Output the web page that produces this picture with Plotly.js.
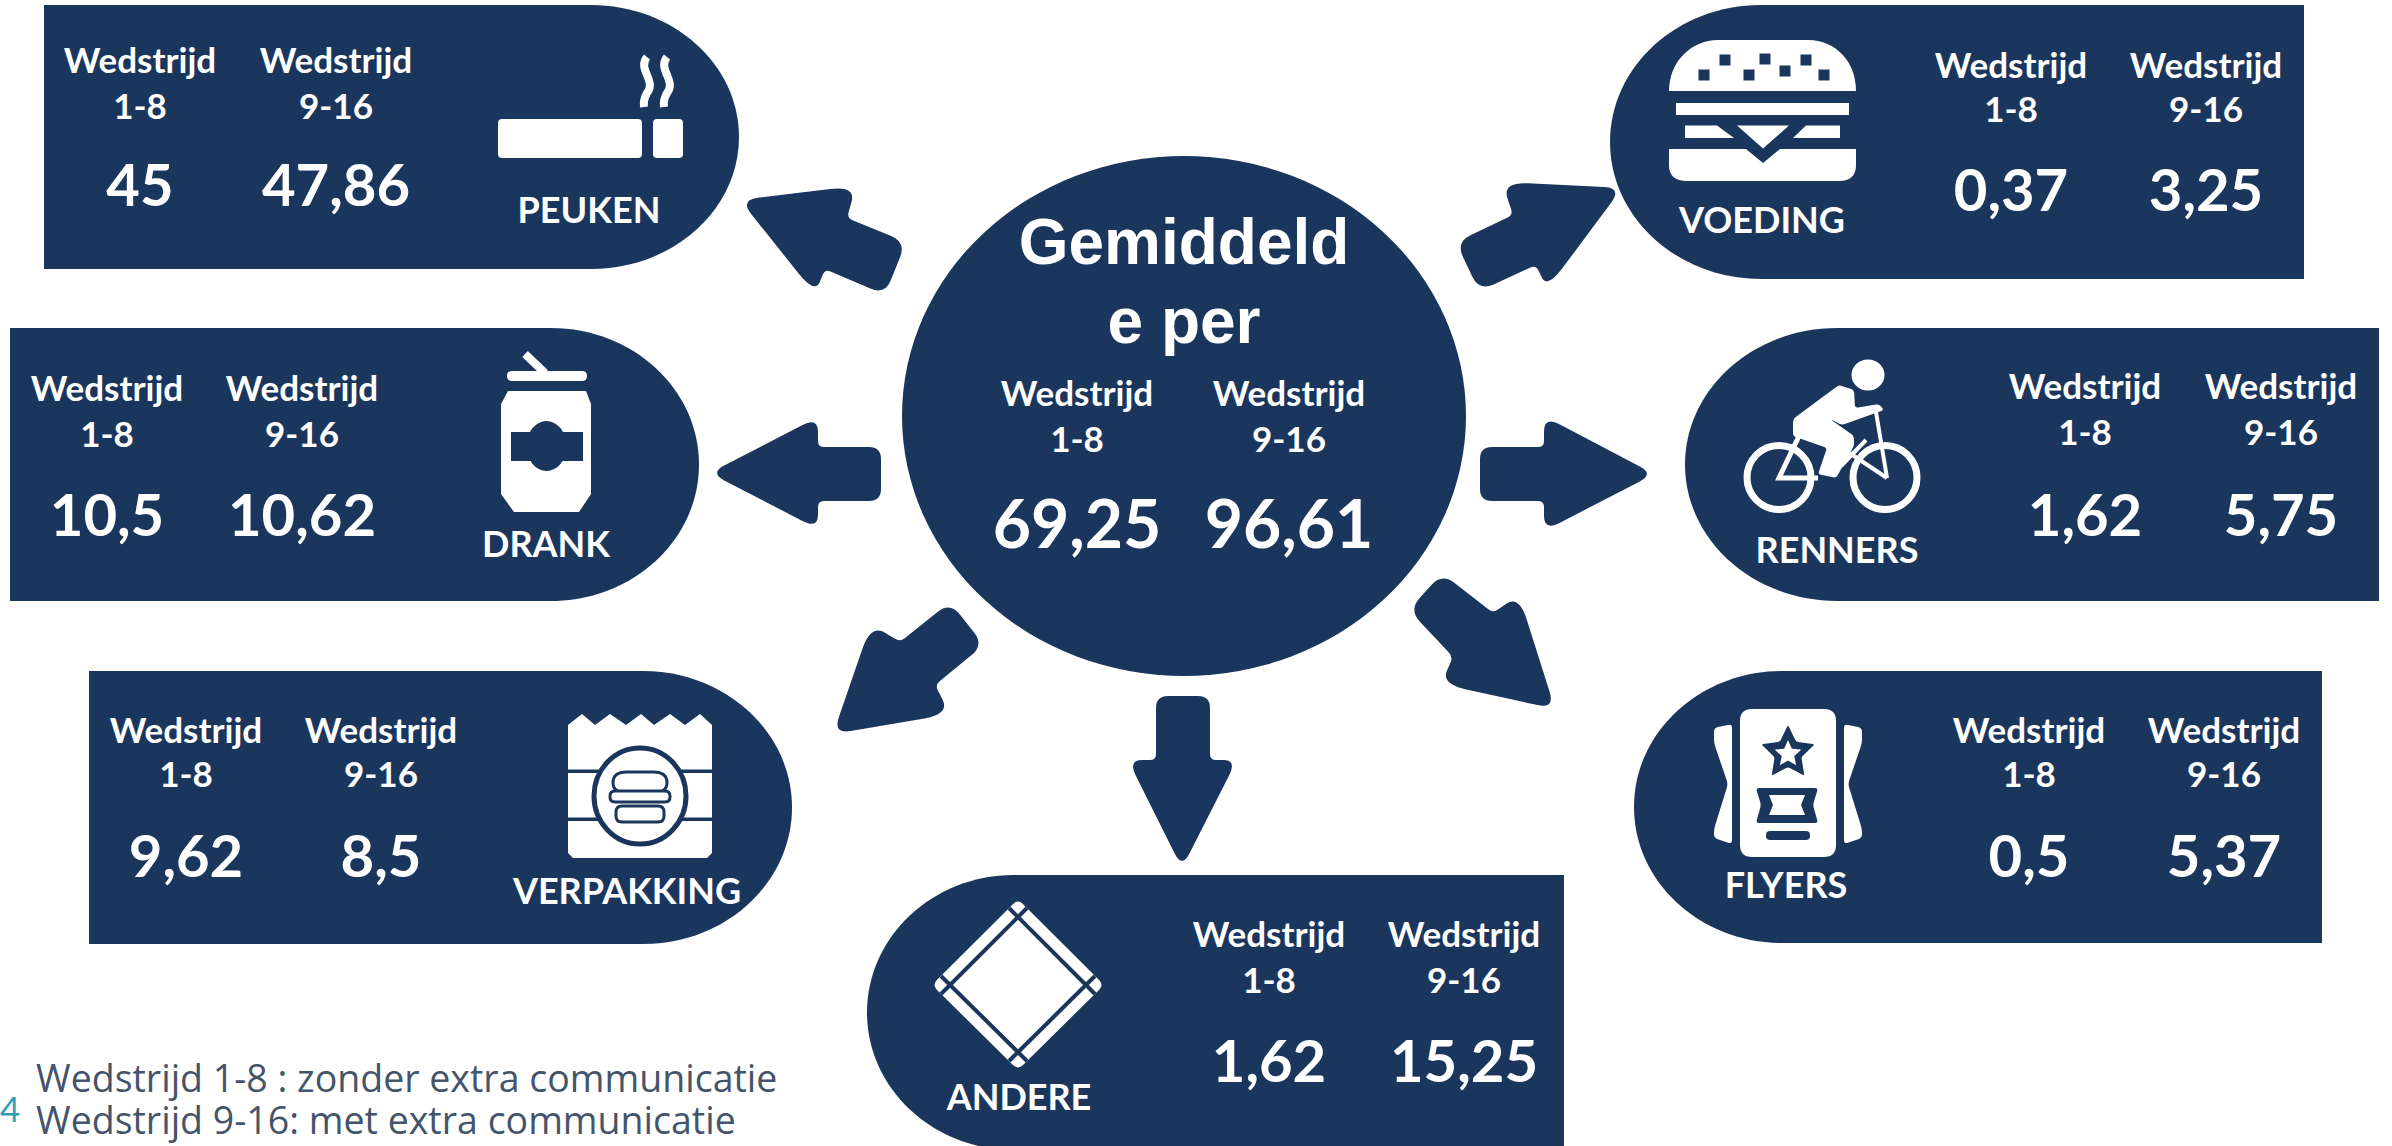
<!DOCTYPE html>
<html><head><meta charset="utf-8">
<script src="https://cdn.plot.ly/plotly-3.0.1.min.js"></script>
<style>html,body{margin:0;padding:0;background:#fff;overflow:hidden}#c{width:2392px;height:1146px}</style>
</head><body><div id="c"></div>
<script>
// ---- data ----
const categories = ["PEUKEN","DRANK","VERPAKKING","ANDERE","VOEDING","RENNERS","FLYERS"];
const wedstrijd1_8 = [45,10.5,9.62,1.62,0.37,1.62,0.5];
const wedstrijd9_16 = [47.86,10.62,8.5,15.25,3.25,5.75,5.37];
const totalLabels = ["Gemiddeld","e per"];
const total1_8 = 69.25;
const total9_16 = 96.61;
const groupWord = "Wedstrijd";
const groupRanges = ["1-8","9-16"];
const footnotes = ["Wedstrijd 1-8 : zonder extra communicatie","Wedstrijd 9-16: met extra communicatie"];
const slideDigit = "4";

// ---- layout (separate from data) ----
const NAVY="#1b365d", WHITE="#ffffff";
const panelBoxes=[
 {x0:44,x1:739,xs:591,y0:5,y1:269,c1:140,c2:336,r1:64,r2:110,r3:191,lx:589,ly:214},
 {x0:10,x1:699,xs:551,y0:328,y1:601,c1:107,c2:302,r1:392,r2:438,r3:521,lx:546,ly:548},
 {x0:89,x1:792,xs:643,y0:671,y1:944,c1:186,c2:381,r1:734,r2:778,r3:862,lx:627,ly:895},
 {x0:1564,x1:867,xs:1014,y0:875,y1:1150,c1:1269,c2:1464,r1:938,r2:984,r3:1067,lx:1019,ly:1101},
 {x0:2304,x1:1610,xs:1761,y0:5,y1:279,c1:2011,c2:2206,r1:69,r2:113,r3:196,lx:1762,ly:224},
 {x0:2379,x1:1685,xs:1837,y0:328,y1:601,c1:2085,c2:2281,r1:390,r2:436,r3:521,lx:1837,ly:554},
 {x0:2322,x1:1634,xs:1782,y0:671,y1:943,c1:2029,c2:2224,r1:734,r2:778,r3:862,lx:1786,ly:889}
];
const centerCols={c1:1077,c2:1289,r1:397,r2:443,r3:531};

function panelPath(b){
 const k=0.5523, ym=(b.y0+b.y1)/2, ry=(b.y1-b.y0)/2, rx=b.x1-b.xs;
 return `M${b.x0} ${b.y0} L${b.xs} ${b.y0} C${b.xs+k*rx} ${b.y0} ${b.x1} ${ym-k*ry} ${b.x1} ${ym} C${b.x1} ${ym+k*ry} ${b.xs+k*rx} ${b.y1} ${b.xs} ${b.y1} L${b.x0} ${b.y1} Z`;
}
function rounded(pts,rad){
 let d="";const n=pts.length;
 for(let i=0;i<n;i++){
  const p=pts[i],a=pts[(i+n-1)%n],b=pts[(i+1)%n],r=Array.isArray(rad)?rad[i]:rad;
  const la=Math.hypot(a[0]-p[0],a[1]-p[1]),lb=Math.hypot(b[0]-p[0],b[1]-p[1]);
  const ra=Math.min(r,la/2),rb=Math.min(r,lb/2);
  const s=[p[0]+(a[0]-p[0])*ra/la,p[1]+(a[1]-p[1])*ra/la];
  const e=[p[0]+(b[0]-p[0])*rb/lb,p[1]+(b[1]-p[1])*rb/lb];
  d+=(i?"L":"M")+s[0].toFixed(1)+" "+s[1].toFixed(1)+" Q"+p[0]+" "+p[1]+" "+e[0].toFixed(1)+" "+e[1].toFixed(1)+" ";
 }
 return d+"Z";
}
const arrows=[
 {p:[[740,200],[856,186],[847,218],[906,242],[885,295],[825,269],[815,294]],r:[18,26,6,16,16,6,26]},
 {p:[[1622,188],[1547,289],[1536,265],[1479,291],[1456,242],[1513,215],[1502,182]],r:[18,26,6,16,16,6,26]},
 {p:[[833,734],[950,714],[935,685],[984,645],[950,602],[900,642],[871,624]],r:[18,26,6,16,16,6,26]},
 {p:[[1442,573],[1493,613],[1519,595],[1555,709],[1441,684],[1453,657],[1409,610]],r:[16,6,26,18,26,6,16]},
 {p:[[710,473],[818,417],[818,447],[881,447],[881,501],[818,501],[818,529]],r:[16,18,6,12,12,6,18]},
 {p:[[1654,474],[1544,531],[1544,501],[1480,501],[1480,447],[1544,447],[1544,416]],r:[16,18,6,12,12,6,18]},
 {p:[[1182,868],[1128,760],[1156,760],[1156,696],[1210,696],[1210,760],[1237,760]],r:[16,18,6,12,12,6,18]}
];

const shapes=[];
const fillS=(path,color)=>shapes.push({type:"path",path,fillcolor:color,line:{width:0},xref:"x",yref:"y",layer:"below"});
const strokeS=(path,color,w)=>shapes.push({type:"path",path,fillcolor:"rgba(0,0,0,0)",line:{color,width:w},xref:"x",yref:"y",layer:"below"});
const ell=(cx,cy,rx,ry,fill,lc,lw)=>shapes.push({type:"circle",x0:cx-rx,x1:cx+rx,y0:cy-ry,y1:cy+ry,fillcolor:fill,line:{color:lc||fill,width:lw||0},xref:"x",yref:"y",layer:"below"});
const rect=(x0,y0,x1,y1,c,r)=>fillS(rounded([[x0,y0],[x1,y0],[x1,y1],[x0,y1]],r||0.01),c);
const poly=(pts,c)=>fillS("M"+pts.map(p=>p.join(" ")).join(" L")+" Z",c);
const mv=(pts,dx)=>pts.map(p=>[p[0]+dx,p[1]]);

panelBoxes.forEach(b=>fillS(panelPath(b),NAVY));
ell(1184,416,282,260,NAVY);
arrows.forEach(a=>fillS(rounded(a.p,a.r),NAVY));

// cigarette
rect(498,119,642,158,WHITE,4); rect(653,119,683,158,WHITE,4);
strokeS("M647 57 C637 69 657 81 647 93 Q643 100 644 107",WHITE,8);
strokeS("M667 57 C657 69 677 81 667 93 Q663 100 664 107",WHITE,8);
// can
strokeS("M525 354 L545 373",WHITE,8);
rect(507,371,587,381,WHITE,5);
poly([[508,391],[586,391],[591,404],[591,494],[579,512],[514,512],[501,494],[501,404]],WHITE);
rect(511,432,583,461,NAVY); ell(546.5,446,20,25,NAVY);
// burger
const B=-4;
fillS(`M${1673+B} 91 C${1673+B} 62 ${1695+B} 40 ${1722+B} 40 L${1812+B} 40 C${1840+B} 40 ${1860+B} 62 ${1860+B} 91 Z`,WHITE);
[[1729,60],[1769,59],[1810,60],[1708,75],[1753,75],[1789,71],[1828,75]].forEach(s=>rect(s[0]+B-5.5,s[1]-5.5,s[0]+B+5.5,s[1]+5.5,NAVY));
rect(1680+B,103,1853+B,115,WHITE);
poly(mv([[1689,125.5],[1721,125.5],[1738,138],[1689,138]],B),WHITE);
poly(mv([[1844,125.5],[1810,125.5],[1797,138],[1844,138]],B),WHITE);
poly(mv([[1741,125.5],[1793,125.5],[1767,148.5]],B),WHITE);
fillS(`M${1673+B} 149 L${1750+B} 149 L${1767+B} 163 L${1784+B} 149 L${1860+B} 149 L${1860+B} 165 Q${1860+B} 181 ${1843+B} 181 L${1691+B} 181 Q${1673+B} 181 ${1673+B} 165 Z`,WHITE);
// cyclist
ell(1868,375,16.5,15.5,WHITE);
ell(1779,477.5,32,32,"rgba(0,0,0,0)",WHITE,7);
ell(1885,477.5,32,32,"rgba(0,0,0,0)",WHITE,7);
fillS(rounded(mv([[1797,419],[1843,385],[1858,390],[1859,408],[1883,404],[1888,410],[1846,425],[1834,419],[1858,436],[1858,446],[1840,478],[1822,474],[1831,448],[1797,436]],-4),3),WHITE);
strokeS("M1876 412 L1887 478",WHITE,4);
strokeS("M1799 436 L1779 478 L1818 478",WHITE,5);
strokeS("M1848 452 L1887 478 M1841 466 L1866 440",WHITE,4);
// bag
poly([[568,725],[582,714],[595,725],[610,714],[626,725],[641,714],[654,725],[670,714],[685,725],[700,714],[712,725],[712,853],[707,858],[573,858],[568,853]],WHITE);
rect(568,769.5,712,773,NAVY); rect(568,817.5,712,821,NAVY);
ell(640,796,46,48,WHITE,NAVY,5);
const bunA=[[613,793],[613,772],[667,772],[667,793]],bunB=[[610,802],[610,791],[670,791],[670,802]],bunC=[[616,806],[664,806],[664,822],[616,822]];
fillS(rounded(bunA,14),WHITE); strokeS(rounded(bunA,14),NAVY,3);
fillS(rounded(bunB,5),WHITE); strokeS(rounded(bunB,5),NAVY,3);
fillS(rounded(bunC,6),WHITE); strokeS(rounded(bunC,6),NAVY,3);
// diamond
const dT=[1018,899],dR=[1104,985],dB=[1018,1070],dL=[932,985];
fillS(rounded([dT,dR,dB,dL],7),WHITE);
const shift=(p,dx,dy)=>[p[0]+dx,p[1]+dy];
[[dT,dL,9,9],[dT,dR,-9,9],[dB,dL,9,-9],[dB,dR,-9,-9]].forEach(l=>{
 const a=shift(l[0],l[2],l[3]),b=shift(l[1],l[2],l[3]);
 strokeS(`M${a[0]} ${a[1]} L${b[0]} ${b[1]}`,NAVY,4);
});
// flyers
const F=-6;
rect(1746+F,709,1842+F,857,WHITE,12);
fillS(rounded(mv([[1738,724],[1720,728],[1720,743],[1734,784],[1720,829],[1720,838],[1738,844]],F),4),WHITE);
fillS(rounded(mv([[1850,724],[1868,728],[1868,743],[1854,784],[1868,829],[1868,838],[1850,844]],F),4),WHITE);
function star(cx,cy,R,r){const a=[];for(let i=0;i<10;i++){const t=-Math.PI/2+i*Math.PI/5,q=i%2?r:R;a.push([cx+q*Math.cos(t),cy+q*Math.sin(t)]);}return a;}
fillS(rounded(star(1794+F,753,28,14),2),NAVY);
fillS(rounded(star(1794+F,754,14,6.5),0.5),WHITE);
fillS(rounded(mv([[1762,788],[1824,788],[1819,805],[1824,823],[1762,823],[1767,805]],F),3),NAVY);
poly(mv([[1775,795],[1811,795],[1807,805],[1811,815],[1775,815],[1779,805]],F),WHITE);
rect(1772+F,831,1816+F,840,NAVY,4);

// ---- text traces ----
const fmt=v=>String(v).replace(".",",");
const bc=panelBoxes;
const hx=[],hy=[],ht=[],vx=[],vy=[],vt=[];
function addHead(b){
 hx.push(b.c1,b.c2,b.c1,b.c2);hy.push(b.r1,b.r1,b.r2,b.r2);ht.push(groupWord,groupWord,groupRanges[0],groupRanges[1]);
}
bc.forEach((b,i)=>{addHead(b);vx.push(b.c1,b.c2);vy.push(b.r3,b.r3);vt.push(fmt(wedstrijd1_8[i]),fmt(wedstrijd9_16[i]));});
addHead(centerCols);
const tr=(x,y,text,size,color,family,weight,pos)=>({type:"scatter",mode:"text",x,y,text,textposition:pos||"middle center",hoverinfo:"skip",cliponaxis:false,showlegend:false,
 textfont:{size,color,family,weight}});
const BODY="Lato, 'Noto Sans', sans-serif";
const traces=[
 tr(hx,hy,ht,35,WHITE,BODY,700),
 tr(vx,vy,vt,58,WHITE,BODY,700),
 tr([centerCols.c1,centerCols.c2],[centerCols.r3,centerCols.r3],[fmt(total1_8),fmt(total9_16)],66,WHITE,BODY,700),
 tr(bc.map(b=>b.lx),bc.map(b=>b.ly),categories,36,WHITE,BODY,700),
 tr([1184,1184],[248,327],totalLabels,64,WHITE,"'Liberation Sans', Arial, sans-serif",700),
 tr([36,36],[1083,1125],footnotes,37.5,"#44546a","'Open Sans', 'Noto Sans', sans-serif",400,"middle right"),
 tr([0],[1113],[slideDigit],35,"#2e9db5",BODY,400,"middle right")
];
Plotly.newPlot("c",traces,{
 width:2392,height:1146,margin:{l:0,r:0,t:0,b:0,pad:0},paper_bgcolor:WHITE,plot_bgcolor:WHITE,showlegend:false,
 xaxis:{range:[0,2392],visible:false,fixedrange:true},
 yaxis:{range:[1146,0],visible:false,fixedrange:true},
 shapes
},{displayModeBar:false,staticPlot:true});
</script></body></html>
